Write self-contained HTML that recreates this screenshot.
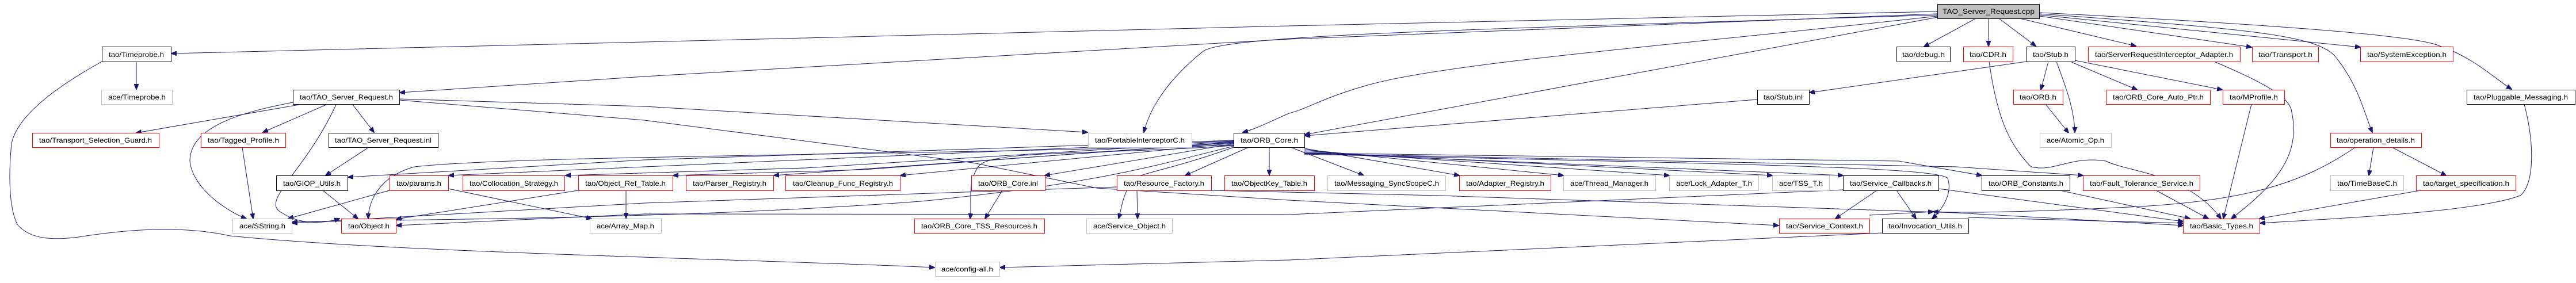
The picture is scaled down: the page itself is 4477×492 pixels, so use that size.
<!DOCTYPE html>
<html><head><meta charset="utf-8"><style>
html,body{margin:0;padding:0;background:#fff;}
svg{display:block;}
text{font-family:"Liberation Sans",Arial,sans-serif;font-size:12px;fill:#000;text-anchor:middle;}
.e{fill:none;stroke:#191970;stroke-width:1;}
.b{fill:#fff;stroke:#000;stroke-width:1;}
.r{fill:#fff;stroke:#ff0000;stroke-width:1;}
.g{fill:#fff;stroke:#bfbfbf;stroke-width:1;}
</style></head><body>
<svg width="4477" height="492" viewBox="0 0 4477 492" xmlns="http://www.w3.org/2000/svg">
<defs><marker id="a" markerWidth="10" markerHeight="8" refX="9" refY="4" orient="auto" markerUnits="userSpaceOnUse"><path d="M0,0 L10,4 L0,8 z" fill="#191970" stroke="#191970"/></marker></defs>
<g class="e" marker-end="url(#a)">
<!-- from cpp -->
<path d="M3367,20 L2240,45 L1120,73 L298,93"/>
<path d="M3367,24 L2240,68 L1120,133 L695,161"/>
<path d="M3367,26 C2600,50 2120,60 2090,90 C2040,130 2000,180 1988,230"/>
<path d="M3367,28 C2900,80 2500,110 2370,150 C2300,170 2270,190 2240,197 C2200,215 2180,225 2160,230"/>
<path d="M3367,30 L2268,234"/>
<path d="M3434,32 L3344,81"/>
<path d="M3456,32 L3456,80"/>
<path d="M3474,32 L3538,80"/>
<path d="M3510,32 L3712,80"/>
<path d="M3545,28 L3913,82"/>
<path d="M3545,26 L4102,82"/>
<path d="M3545,24 C3900,50 4030,60 4060,100 C4100,150 4110,200 4123,230"/>
<path d="M3545,22 C3900,40 4200,60 4240,80 C4300,100 4340,140 4365,155"/>
<!-- Timeprobe -->
<path d="M237,107 L237,155"/>
<path d="M177,107 C100,150 30,200 20,250 C15,300 15,360 30,390 C50,415 90,420 150,410 C250,395 330,395 400,410 C700,440 1300,450 1624,465"/>
<!-- TAO_Server_Request.h -->
<path d="M520,182 L237,231"/>
<path d="M567,182 L457,230"/>
<path d="M613,182 L650,230"/>
<path d="M584,182 C530,300 450,350 490,370 C520,390 560,390 590,380"/>
<path d="M509,178 C420,195 330,220 330,280 C335,330 400,370 428,380"/>
<path d="M694,172 L1120,185 L1890,230"/>
<path d="M694,174 L1120,209 L1691,283 L1906,327 L2240,348 L3091,392"/>
<!-- inl etc -->
<path d="M641,256 L566,305"/>
<path d="M421,256 L440,380"/>
<path d="M561,331 L622,380"/>
<path d="M677,331 L501,380"/>
<path d="M779,328 L1028,380"/>
<path d="M1088,331 L1088,379"/>
<path d="M1005,331 L689,381"/>
<!-- ORB_Core.h -->
<path d="M2144,244 L1120,278 L605,308"/>
<path d="M2144,245 L1120,290 L780,305"/>
<path d="M2144,246 L1400,292 L983,305"/>
<path d="M2144,247 L1500,295 L1170,305"/>
<path d="M2144,248 L1345,305"/>
<path d="M2144,249 L1565,305"/>
<path d="M2144,250 L1816,305"/>
<path d="M2170,256 L2060,305"/>
<path d="M2206,256 L2206,304"/>
<path d="M2243,256 L2370,305"/>
<path d="M2267,258 L2536,305"/>
<path d="M2267,260 L2717,305"/>
<path d="M2267,262 L2901,305"/>
<path d="M2267,264 L3080,305"/>
<path d="M2267,266 L3203,305"/>
<path d="M2267,266 L3300,280 L3444,305"/>
<path d="M2267,267 L3400,290 L3620,305"/>
<path d="M2267,268 C3000,285 3370,290 3385,310 C3395,340 3370,370 3358,380"/>
<path d="M2144,252 C1600,270 900,270 720,290 C650,310 640,360 640,380"/>
<path d="M2144,254 C2000,290 1900,320 1600,350 C1200,380 800,380 508,386"/>
<path d="M2144,253 C1900,270 1720,260 1700,290 C1680,320 1690,350 1686,380"/>
<path d="M2144,256 C2050,290 1990,300 1970,310 C1950,340 1950,360 1944,380"/>
<!-- Resource_Factory -->
<path d="M1976,331 L1977,380"/>
<path d="M1941,325 L1120,353 L508,388"/>
<path d="M2105,331 L2500,340 L3400,370 L3794,392"/>
<path d="M1742,331 L1712,380"/>
<!-- Service_Callbacks -->
<path d="M3262,331 L3190,380"/>
<path d="M3296,331 L3330,380"/>
<path d="M3203,330 L2240,373 L1120,372 L689,392"/>
<path d="M3369,328 L3794,385"/>
<path d="M3271,405 L2240,452 L1738,465"/>
<path d="M3421,378 L3794,388"/>
<path d="M3249,374 L3360,368"/>
<!-- Stub -->
<path d="M3522,107 L3145,161"/>
<path d="M3054,173 L2268,236"/>
<path d="M3560,107 L3547,156"/>
<path d="M3598,107 L3714,156"/>
<path d="M3606,105 L3862,156"/>
<path d="M3555,181 L3595,231"/>
<path d="M3574,107 C3590,150 3605,190 3606,230"/>
<path d="M3913,181 L3864,380"/>
<path d="M3457,107 C3470,200 3490,250 3530,290 C3570,300 3600,270 3660,280 C3700,300 3800,300 3860,380"/>
<path d="M3848,107 C3950,150 3975,170 3982,190 C3998,260 3970,310 3878,380"/>
<!-- operation_details -->
<path d="M4125,256 L4117,305"/>
<path d="M4157,256 L4251,305"/>
<path d="M4092,257 C4000,320 3900,350 3700,360 C3500,370 3400,370 3360,368"/>
<path d="M4207,331 L3927,380"/>
<path d="M4387,181 C4405,250 4405,320 4380,340 C4300,370 4050,380 3928,388"/>
<path d="M3580,331 L3806,380"/>
<path d="M3747,331 L3838,380"/>
</g>
<!-- nodes -->
<rect x="3367.5" y="7.5" width="177" height="25" fill="#bfbfbf" stroke="#000"/><text x="3456" y="24" textLength="160" lengthAdjust="spacingAndGlyphs">TAO_Server_Request.cpp</text>
<rect class="b" x="177.5" y="81.5" width="120" height="26"/><text x="237" y="99" textLength="96" lengthAdjust="spacingAndGlyphs">tao/Timeprobe.h</text>
<rect class="b" x="3296.5" y="81.5" width="93" height="26"/><text x="3343" y="99" textLength="74" lengthAdjust="spacingAndGlyphs">tao/debug.h</text>
<rect class="r" x="3412.5" y="81.5" width="86" height="26"/><text x="3455" y="99" textLength="64" lengthAdjust="spacingAndGlyphs">tao/CDR.h</text>
<rect class="b" x="3522.5" y="81.5" width="84" height="26"/><text x="3564" y="99" textLength="62" lengthAdjust="spacingAndGlyphs">tao/Stub.h</text>
<rect class="r" x="3629.5" y="81.5" width="264" height="26"/><text x="3761" y="99" textLength="240" lengthAdjust="spacingAndGlyphs">tao/ServerRequestInterceptor_Adapter.h</text>
<rect class="r" x="3914.5" y="81.5" width="115" height="26"/><text x="3972" y="99" textLength="94" lengthAdjust="spacingAndGlyphs">tao/Transport.h</text>
<rect class="r" x="4102.5" y="81.5" width="161" height="26"/><text x="4183" y="99" textLength="138" lengthAdjust="spacingAndGlyphs">tao/SystemException.h</text>
<rect class="g" x="176.5" y="156.5" width="123" height="25"/><text x="238" y="173" textLength="100" lengthAdjust="spacingAndGlyphs">ace/Timeprobe.h</text>
<rect class="b" x="509.5" y="156.5" width="185" height="25"/><text x="602" y="173" textLength="162" lengthAdjust="spacingAndGlyphs">tao/TAO_Server_Request.h</text>
<rect class="b" x="3054.5" y="156.5" width="90" height="25"/><text x="3099" y="173" textLength="68" lengthAdjust="spacingAndGlyphs">tao/Stub.inl</text>
<rect class="r" x="3499.5" y="156.5" width="86" height="25"/><text x="3542" y="173" textLength="64" lengthAdjust="spacingAndGlyphs">tao/ORB.h</text>
<rect class="r" x="3660.5" y="156.5" width="181" height="25"/><text x="3751" y="173" textLength="158" lengthAdjust="spacingAndGlyphs">tao/ORB_Core_Auto_Ptr.h</text>
<rect class="r" x="3863.5" y="156.5" width="107" height="25"/><text x="3917" y="173" textLength="84" lengthAdjust="spacingAndGlyphs">tao/MProfile.h</text>
<rect class="b" x="4287.5" y="156.5" width="188" height="25"/><text x="4381" y="173" textLength="164" lengthAdjust="spacingAndGlyphs">tao/Pluggable_Messaging.h</text>
<rect class="r" x="56.5" y="231.5" width="220" height="25"/><text x="166" y="248" textLength="196" lengthAdjust="spacingAndGlyphs">tao/Transport_Selection_Guard.h</text>
<rect class="r" x="349.5" y="231.5" width="147" height="25"/><text x="423" y="248" textLength="124" lengthAdjust="spacingAndGlyphs">tao/Tagged_Profile.h</text>
<rect class="b" x="571.5" y="231.5" width="190" height="25"/><text x="666" y="248" textLength="168" lengthAdjust="spacingAndGlyphs">tao/TAO_Server_Request.inl</text>
<rect class="g" x="1891.5" y="231.5" width="180" height="25"/><text x="1981" y="248" textLength="156" lengthAdjust="spacingAndGlyphs">tao/PortableInterceptorC.h</text>
<rect class="b" x="2144.5" y="231.5" width="123" height="25"/><text x="2206" y="248" textLength="100" lengthAdjust="spacingAndGlyphs">tao/ORB_Core.h</text>
<rect class="g" x="3545.5" y="231.5" width="124" height="25"/><text x="3607" y="248" textLength="100" lengthAdjust="spacingAndGlyphs">ace/Atomic_Op.h</text>
<rect class="r" x="4050.5" y="231.5" width="158" height="25"/><text x="4129" y="248" textLength="136" lengthAdjust="spacingAndGlyphs">tao/operation_details.h</text>
<rect class="b" x="480.5" y="305.5" width="124" height="26"/><text x="542" y="323" textLength="100" lengthAdjust="spacingAndGlyphs">tao/GIOP_Utils.h</text>
<rect class="r" x="677.5" y="305.5" width="102" height="26"/><text x="728" y="323" textLength="78" lengthAdjust="spacingAndGlyphs">tao/params.h</text>
<rect class="r" x="804.5" y="305.5" width="177" height="26"/><text x="893" y="323" textLength="154" lengthAdjust="spacingAndGlyphs">tao/Collocation_Strategy.h</text>
<rect class="r" x="1005.5" y="305.5" width="164" height="26"/><text x="1087" y="323" textLength="140" lengthAdjust="spacingAndGlyphs">tao/Object_Ref_Table.h</text>
<rect class="r" x="1192.5" y="305.5" width="152" height="26"/><text x="1268" y="323" textLength="128" lengthAdjust="spacingAndGlyphs">tao/Parser_Registry.h</text>
<rect class="r" x="1365.5" y="305.5" width="199" height="26"/><text x="1465" y="323" textLength="174" lengthAdjust="spacingAndGlyphs">tao/Cleanup_Func_Registry.h</text>
<rect class="r" x="1688.5" y="305.5" width="128" height="26"/><text x="1752" y="323" textLength="104" lengthAdjust="spacingAndGlyphs">tao/ORB_Core.inl</text>
<rect class="r" x="1941.5" y="305.5" width="164" height="26"/><text x="2023" y="323" textLength="140" lengthAdjust="spacingAndGlyphs">tao/Resource_Factory.h</text>
<rect class="r" x="2128.5" y="305.5" width="156" height="26"/><text x="2206" y="323" textLength="132" lengthAdjust="spacingAndGlyphs">tao/ObjectKey_Table.h</text>
<rect class="g" x="2307.5" y="305.5" width="205" height="26"/><text x="2410" y="323" textLength="182" lengthAdjust="spacingAndGlyphs">tao/Messaging_SyncScopeC.h</text>
<rect class="r" x="2536.5" y="305.5" width="159" height="26"/><text x="2616" y="323" textLength="136" lengthAdjust="spacingAndGlyphs">tao/Adapter_Registry.h</text>
<rect class="g" x="2717.5" y="305.5" width="160" height="26"/><text x="2797" y="323" textLength="136" lengthAdjust="spacingAndGlyphs">ace/Thread_Manager.h</text>
<rect class="g" x="2901.5" y="305.5" width="155" height="26"/><text x="2979" y="323" textLength="132" lengthAdjust="spacingAndGlyphs">ace/Lock_Adapter_T.h</text>
<rect class="g" x="3080.5" y="305.5" width="99" height="26"/><text x="3130" y="323" textLength="76" lengthAdjust="spacingAndGlyphs">ace/TSS_T.h</text>
<rect class="b" x="3203.5" y="305.5" width="166" height="26"/><text x="3286" y="323" textLength="142" lengthAdjust="spacingAndGlyphs">tao/Service_Callbacks.h</text>
<rect class="b" x="3444.5" y="305.5" width="153" height="26"/><text x="3521" y="323" textLength="130" lengthAdjust="spacingAndGlyphs">tao/ORB_Constants.h</text>
<rect class="r" x="3620.5" y="305.5" width="203" height="26"/><text x="3722" y="323" textLength="180" lengthAdjust="spacingAndGlyphs">tao/Fault_Tolerance_Service.h</text>
<rect class="g" x="4050.5" y="305.5" width="127" height="26"/><text x="4114" y="323" textLength="104" lengthAdjust="spacingAndGlyphs">tao/TimeBaseC.h</text>
<rect class="r" x="4199.5" y="305.5" width="173" height="26"/><text x="4286" y="323" textLength="150" lengthAdjust="spacingAndGlyphs">tao/target_specification.h</text>
<rect class="g" x="404.5" y="380.5" width="103" height="25"/><text x="456" y="397" textLength="80" lengthAdjust="spacingAndGlyphs">ace/SString.h</text>
<rect class="r" x="593.5" y="380.5" width="95" height="25"/><text x="641" y="397" textLength="72" lengthAdjust="spacingAndGlyphs">tao/Object.h</text>
<rect class="g" x="1025.5" y="380.5" width="124" height="25"/><text x="1087" y="397" textLength="100" lengthAdjust="spacingAndGlyphs">ace/Array_Map.h</text>
<rect class="r" x="1589.5" y="380.5" width="226" height="25"/><text x="1702" y="397" textLength="202" lengthAdjust="spacingAndGlyphs">tao/ORB_Core_TSS_Resources.h</text>
<rect class="g" x="1888.5" y="380.5" width="149" height="25"/><text x="1963" y="397" textLength="126" lengthAdjust="spacingAndGlyphs">ace/Service_Object.h</text>
<rect class="r" x="3092.5" y="380.5" width="157" height="25"/><text x="3171" y="397" textLength="134" lengthAdjust="spacingAndGlyphs">tao/Service_Context.h</text>
<rect class="b" x="3271.5" y="380.5" width="150" height="25"/><text x="3346" y="397" textLength="128" lengthAdjust="spacingAndGlyphs">tao/Invocation_Utils.h</text>
<rect class="r" x="3794.5" y="380.5" width="133" height="25"/><text x="3861" y="397" textLength="110" lengthAdjust="spacingAndGlyphs">tao/Basic_Types.h</text>
<rect class="g" x="1625.5" y="455.5" width="112" height="25"/><text x="1681" y="472" textLength="90" lengthAdjust="spacingAndGlyphs">ace/config-all.h</text>
</svg>
</body></html>
